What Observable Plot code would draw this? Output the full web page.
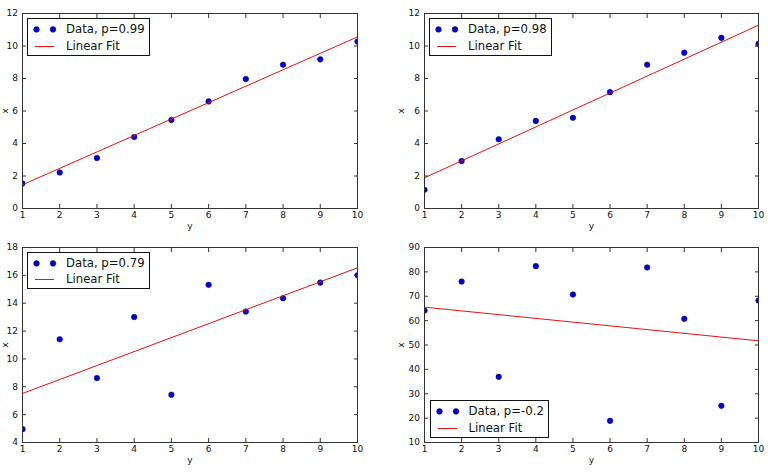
<!DOCTYPE html>
<html>
<head>
<meta charset="utf-8">
<script src="https://cdn.jsdelivr.net/npm/d3@7"></script>
<script src="https://cdn.jsdelivr.net/npm/@observablehq/plot@0.6"></script>
<style>
  html, body { margin: 0; padding: 0; background: white; }
  #wrap { position: relative; width: 768px; height: 476px; overflow: hidden; font-family: "DejaVu Sans", sans-serif; }
  .panel { position: absolute; width: 384px; height: 238px; }
  .panel svg { position: absolute; left: 0; top: 0; overflow: visible; }
  .legend { position: absolute; background: white; border: 1px solid #111; box-sizing: border-box;
            font-family: "DejaVu Sans", sans-serif; font-size: 11.7px; color: #111; padding: 2px 4px 0 0; }
  .row { position: relative; height: 16.8px; line-height: 16.8px; padding-left: 38px; white-space: nowrap; }
  .row svg { position: absolute; left: 0; top: 0; }
</style>
</head>
<body>
<div id="wrap"></div>
<script>
// ---- data ----
const xValues = [1, 2, 3, 4, 5, 6, 7, 8, 9, 10];
const xTicks = [1, 2, 3, 4, 5, 6, 7, 8, 9, 10];

const series1 = [1.54, 2.22, 3.11, 4.40, 5.45, 6.59, 7.97, 8.85, 9.18, 10.27];
const series2 = [1.15, 2.92, 4.26, 5.39, 5.58, 7.16, 8.85, 9.59, 10.50, 10.13];
const series3 = [4.96, 11.41, 8.63, 13.01, 7.43, 15.32, 13.40, 14.36, 15.48, 16.01];
const series4 = [64.15, 76.05, 36.94, 82.34, 70.72, 18.89, 81.79, 60.74, 25.04, 68.26];

const fitX = [1, 10];
const fit1 = [1.46, 10.56];
const fit2 = [1.89, 11.28];
const fit3 = [7.52, 16.54];
const fit4 = [65.52, 51.71];

const yTicks1 = [0, 2, 4, 6, 8, 10, 12];
const yTicks2 = [0, 2, 4, 6, 8, 10, 12];
const yTicks3 = [4, 6, 8, 10, 12, 14, 16, 18];
const yTicks4 = [10, 20, 30, 40, 50, 60, 70, 80, 90];

const dataLabels = ["Data, p=0.99", "Data, p=0.98", "Data, p=0.79", "Data, p=-0.2"];
const fitLabel = "Linear Fit";

const panels = [
  {series: series1, fit: fit1, yTicks: yTicks1, label: dataLabels[0],
   left: 0, top: 0, m: [13, 27, 30, 22], yOff: 21, legend: {left: 27, top: 18}},
  {series: series2, fit: fit2, yTicks: yTicks2, label: dataLabels[1],
   left: 384, top: 0, m: [13, 10, 30, 40], yOff: 27, legend: {left: 45, top: 18}},
  {series: series3, fit: fit3, yTicks: yTicks3, label: dataLabels[2],
   left: 0, top: 238, m: [9, 27, 34, 22], yOff: 21, legend: {left: 27, top: 13.5}},
  {series: series4, fit: fit4, yTicks: yTicks4, label: dataLabels[3],
   left: 384, top: 238, m: [9, 10, 34, 40], yOff: 27, legend: {left: 45.5, top: 162}}
];

const blue = "#0000d0";
const wrap = document.getElementById("wrap");

for (const p of panels) {
  const pts = xValues.map((x, i) => ({x, y: p.series[i]}));
  const fitPts = fitX.map((x, i) => ({x, y: p.fit[i]}));
  const yd = [p.yTicks[0], p.yTicks[p.yTicks.length - 1]];
  const chart = Plot.plot({
    width: 384, height: 238,
    marginTop: p.m[0], marginRight: p.m[1], marginBottom: p.m[2], marginLeft: p.m[3],
    style: {fontFamily: "DejaVu Sans, sans-serif", fontSize: "9px", color: "#111", background: "transparent"},
    x: {domain: [1, 10]},
    y: {domain: yd},
    marks: [
      Plot.dot(pts, {x: "x", y: "y", r: 2.8, fill: blue, stroke: "#000070", strokeWidth: 0.5, clip: true}),
      Plot.line(fitPts, {x: "x", y: "y", stroke: "#ee1111", strokeWidth: 1, clip: true}),
      Plot.frame({stroke: "#333", strokeWidth: 1}),
      Plot.axisX(xTicks, {anchor: "bottom", tickSize: -4, tickPadding: 7.5, label: "y",
        labelAnchor: "center", labelArrow: "none", labelOffset: 20, stroke: "#333"}),
      Plot.axisX(xTicks, {anchor: "top", tickSize: -4, text: null, label: null, stroke: "#333"}),
      Plot.axisY(p.yTicks, {anchor: "left", tickSize: -4, tickPadding: 8.5, label: "x",
        labelAnchor: "center", labelArrow: "none", labelOffset: p.yOff, stroke: "#333"}),
      Plot.axisY(p.yTicks, {anchor: "right", tickSize: -4, text: null, label: null, stroke: "#333"})
    ]
  });
  const div = document.createElement("div");
  div.className = "panel";
  div.style.left = p.left + "px";
  div.style.top = p.top + "px";
  div.appendChild(chart);

  const lg = document.createElement("div");
  lg.className = "legend";
  lg.style.left = p.legend.left + "px";
  lg.style.top = p.legend.top + "px";
  lg.innerHTML =
    `<div class="row"><svg width="36" height="17"><circle cx="8.5" cy="8.4" r="2.8" fill="${blue}" stroke="#000070" stroke-width="0.5"/><circle cx="25" cy="8.4" r="2.8" fill="${blue}" stroke="#000070" stroke-width="0.5"/></svg>${p.label}</div>` +
    `<div class="row"><svg width="36" height="17"><line x1="7" x2="26" y1="8.5" y2="8.5" stroke="#ee1111" stroke-width="1"/></svg>${fitLabel}</div>`;
  div.appendChild(lg);
  wrap.appendChild(div);
}
</script>
</body>
</html>
